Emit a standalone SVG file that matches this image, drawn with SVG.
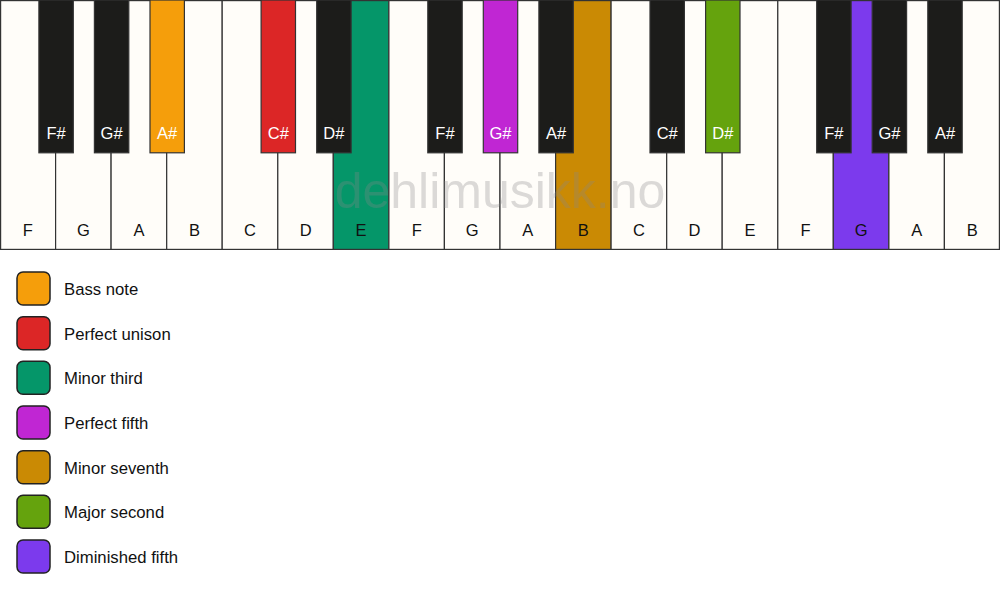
<svg xmlns="http://www.w3.org/2000/svg" width="1000" height="594" viewBox="0 0 1000 594">
<style>
.w{fill:#fffdf9;stroke:#333;stroke-width:1.2}
.b{fill:#1c1c1a;stroke:#333;stroke-width:1.2}
.wl{font-family:"Liberation Sans",Arial,sans-serif;font-size:16.5px;fill:#111;text-anchor:middle}
.bl{font-family:"Liberation Sans",Arial,sans-serif;font-size:16.5px;fill:#fff;text-anchor:middle}
.sw{stroke:#222;stroke-width:1.5}
.lt{font-family:"Liberation Sans",Arial,sans-serif;font-size:16.7px;fill:#111}
</style>
<rect x="0" y="0" width="1000" height="594" fill="#ffffff"/>
<g id="white-keys">
<g id="w0"><rect class="w" x="0.6" y="0.6" width="55.0" height="248.8"/><text class="wl" x="27.8" y="236">F</text></g>
<g id="w1"><rect class="w" x="55.6" y="0.6" width="55.5" height="248.8"/><text class="wl" x="83.3" y="236">G</text></g>
<g id="w2"><rect class="w" x="111.1" y="0.6" width="55.6" height="248.8"/><text class="wl" x="138.9" y="236">A</text></g>
<g id="w3"><rect class="w" x="166.7" y="0.6" width="55.5" height="248.8"/><text class="wl" x="194.4" y="236">B</text></g>
<g id="w4"><rect class="w" x="222.2" y="0.6" width="55.6" height="248.8"/><text class="wl" x="250" y="236">C</text></g>
<g id="w5"><rect class="w" x="277.8" y="0.6" width="55.5" height="248.8"/><text class="wl" x="305.6" y="236">D</text></g>
<g id="w6"><rect class="w" x="333.3" y="0.6" width="55.6" height="248.8" style="fill:#059669"/><text class="wl" x="361.1" y="236">E</text></g>
<g id="w7"><rect class="w" x="388.9" y="0.6" width="55.5" height="248.8"/><text class="wl" x="416.7" y="236">F</text></g>
<g id="w8"><rect class="w" x="444.4" y="0.6" width="55.6" height="248.8"/><text class="wl" x="472.2" y="236">G</text></g>
<g id="w9"><rect class="w" x="500" y="0.6" width="55.6" height="248.8"/><text class="wl" x="527.8" y="236">A</text></g>
<g id="w10"><rect class="w" x="555.6" y="0.6" width="55.5" height="248.8" style="fill:#ca8a04"/><text class="wl" x="583.3" y="236">B</text></g>
<g id="w11"><rect class="w" x="611.1" y="0.6" width="55.6" height="248.8"/><text class="wl" x="638.9" y="236">C</text></g>
<g id="w12"><rect class="w" x="666.7" y="0.6" width="55.5" height="248.8"/><text class="wl" x="694.4" y="236">D</text></g>
<g id="w13"><rect class="w" x="722.2" y="0.6" width="55.6" height="248.8"/><text class="wl" x="750" y="236">E</text></g>
<g id="w14"><rect class="w" x="777.8" y="0.6" width="55.5" height="248.8"/><text class="wl" x="805.6" y="236">F</text></g>
<g id="w15"><rect class="w" x="833.3" y="0.6" width="55.6" height="248.8" style="fill:#7c3aed"/><text class="wl" x="861.1" y="236">G</text></g>
<g id="w16"><rect class="w" x="888.9" y="0.6" width="55.5" height="248.8"/><text class="wl" x="916.7" y="236">A</text></g>
<g id="w17"><rect class="w" x="944.4" y="0.6" width="55.0" height="248.8"/><text class="wl" x="972.2" y="236">B</text></g>
</g>
<g id="black-keys">
<g id="b1"><rect class="b" x="38.9" y="0" width="34.4" height="152.8"/><text class="bl" x="56.1" y="139">F#</text></g>
<g id="b2"><rect class="b" x="94.4" y="0" width="34.4" height="152.8"/><text class="bl" x="111.6" y="139">G#</text></g>
<g id="b3"><rect class="b" x="150" y="0" width="34.4" height="152.8" style="fill:#f59e0b"/><text class="bl" x="167.2" y="139">A#</text></g>
<g id="b5"><rect class="b" x="261.1" y="0" width="34.4" height="152.8" style="fill:#dc2626"/><text class="bl" x="278.3" y="139">C#</text></g>
<g id="b6"><rect class="b" x="316.7" y="0" width="34.4" height="152.8"/><text class="bl" x="333.9" y="139">D#</text></g>
<g id="b8"><rect class="b" x="427.8" y="0" width="34.4" height="152.8"/><text class="bl" x="445" y="139">F#</text></g>
<g id="b9"><rect class="b" x="483.3" y="0" width="34.4" height="152.8" style="fill:#c026d3"/><text class="bl" x="500.5" y="139">G#</text></g>
<g id="b10"><rect class="b" x="538.9" y="0" width="34.4" height="152.8"/><text class="bl" x="556.1" y="139">A#</text></g>
<g id="b12"><rect class="b" x="650" y="0" width="34.4" height="152.8"/><text class="bl" x="667.2" y="139">C#</text></g>
<g id="b13"><rect class="b" x="705.6" y="0" width="34.4" height="152.8" style="fill:#65a30d"/><text class="bl" x="722.8" y="139">D#</text></g>
<g id="b15"><rect class="b" x="816.7" y="0" width="34.4" height="152.8"/><text class="bl" x="833.9" y="139">F#</text></g>
<g id="b16"><rect class="b" x="872.2" y="0" width="34.4" height="152.8"/><text class="bl" x="889.4" y="139">G#</text></g>
<g id="b17"><rect class="b" x="927.8" y="0" width="34.4" height="152.8"/><text class="bl" x="945" y="139">A#</text></g>
</g>
<text id="watermark" x="500" y="208" font-family="'Liberation Sans',Arial,sans-serif" font-size="50" text-anchor="middle" fill="#888" fill-opacity="0.3">dehlimusikk.no</text>
<g id="legend">
<g id="l1"><rect class="sw" x="17" y="272" width="33" height="33" rx="6" fill="#f59e0b"/><text class="lt" x="64" y="295">Bass note</text></g>
<g id="l2"><rect class="sw" x="17" y="316.7" width="33" height="33" rx="6" fill="#dc2626"/><text class="lt" x="64" y="339.7">Perfect unison</text></g>
<g id="l3"><rect class="sw" x="17" y="361.3" width="33" height="33" rx="6" fill="#059669"/><text class="lt" x="64" y="384.3">Minor third</text></g>
<g id="l4"><rect class="sw" x="17" y="406" width="33" height="33" rx="6" fill="#c026d3"/><text class="lt" x="64" y="429">Perfect fifth</text></g>
<g id="l5"><rect class="sw" x="17" y="450.7" width="33" height="33" rx="6" fill="#ca8a04"/><text class="lt" x="64" y="473.7">Minor seventh</text></g>
<g id="l6"><rect class="sw" x="17" y="495.3" width="33" height="33" rx="6" fill="#65a30d"/><text class="lt" x="64" y="518.3">Major second</text></g>
<g id="l7"><rect class="sw" x="17" y="540" width="33" height="33" rx="6" fill="#7c3aed"/><text class="lt" x="64" y="563">Diminished fifth</text></g>
</g>
</svg>
